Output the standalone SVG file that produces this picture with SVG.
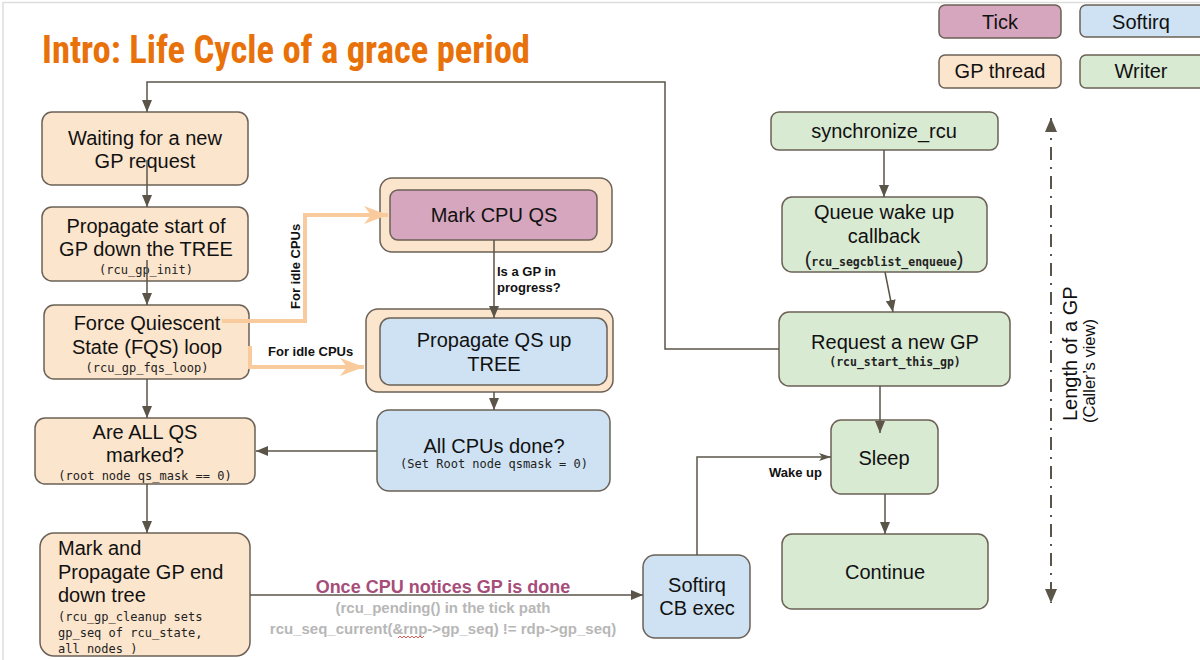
<svg xmlns="http://www.w3.org/2000/svg" width="1200" height="660" viewBox="0 0 1200 660">
<defs>
<style>
.gp{fill:#FCE5CD;stroke:#6b6156;stroke-width:1.5}
.tk{fill:#D5A6BD;stroke:#6b6156;stroke-width:1.5}
.sq{fill:#CFE2F3;stroke:#6b6156;stroke-width:1.5}
.wr{fill:#D9EAD3;stroke:#6b6156;stroke-width:1.5}
.t{font-family:"Liberation Sans",Arial,sans-serif;font-size:20px;fill:#111;text-anchor:middle}
.m{font-family:"DejaVu Sans Mono","Liberation Mono",monospace;font-size:12px;fill:#222;text-anchor:middle}
.mb{font-family:"DejaVu Sans Mono","Liberation Mono",monospace;font-size:11.5px;font-weight:bold;fill:#222;text-anchor:middle}
.sb{font-family:"Liberation Sans",Arial,sans-serif;font-size:13px;font-weight:bold;fill:#111}
.c{fill:none;stroke:#5b5549;stroke-width:1.5}
.o{fill:none;stroke:#F9CB9C;stroke-width:4}
</style>
<marker id="ah" viewBox="0 0 12 10" refX="12" refY="5" markerWidth="12" markerHeight="10" markerUnits="userSpaceOnUse" orient="auto"><path d="M0,0 L12,5 L0,10 z" fill="#5b5549"/></marker>
<marker id="ahn" viewBox="0 0 12 10" refX="12" refY="5" markerWidth="12" markerHeight="10" markerUnits="userSpaceOnUse" orient="auto"><path d="M0,1 L12,5 L0,9 L3,5 z" fill="#5b5549"/></marker>
<marker id="ao" viewBox="0 0 24 18" refX="24" refY="9" markerWidth="24" markerHeight="18" markerUnits="userSpaceOnUse" orient="auto"><path d="M0,0 L24,9 L0,18 L7,9 z" fill="#F9CB9C"/></marker>
<marker id="ax" viewBox="0 0 14 12" refX="14" refY="6" markerWidth="14" markerHeight="12" markerUnits="userSpaceOnUse" orient="auto-start-reverse"><path d="M0,0 L14,6 L0,12 z" fill="#5b5549"/></marker>
</defs>
<rect width="1200" height="660" fill="#fff"/>
<path d="M3,660 V2.5 H1200" fill="none" stroke="#ddd" stroke-width="1.5"/>

<text x="42" y="63" font-family="'Liberation Sans Narrow','Roboto Condensed','Liberation Sans',sans-serif" font-weight="bold" font-size="38" fill="#E8710A" textLength="488" lengthAdjust="spacingAndGlyphs">Intro: Life Cycle of a grace period</text>

<g id="legend-tick"><rect class="tk" x="939" y="5" width="122" height="33" rx="6"/><text class="t" x="1000" y="29">Tick</text></g>
<g id="legend-softirq"><rect class="sq" x="1080" y="5" width="125" height="32" rx="6"/><text class="t" x="1141" y="29">Softirq</text></g>
<g id="legend-gp"><rect class="gp" x="939" y="55" width="122" height="33" rx="6"/><text class="t" x="1000" y="78">GP thread</text></g>
<g id="legend-writer"><rect class="wr" x="1080" y="55" width="125" height="33" rx="6"/><text class="t" x="1141" y="78">Writer</text></g>

<g id="waiting"><rect class="gp" x="42" y="112" width="206" height="73" rx="10"/><text class="t" x="145" y="145">Waiting for a new</text><text class="t" x="145" y="168">GP request</text></g>
<g id="propagate-start"><rect class="gp" x="42" y="207" width="206" height="74" rx="10"/><text class="t" x="146" y="233">Propagate start of</text><text class="t" x="146" y="256">GP down the TREE</text><text class="m" x="146" y="274" font-size="13.5">(rcu_gp_init)</text></g>
<g id="fqs"><rect class="gp" x="44" y="305" width="205" height="74" rx="10"/><text class="t" x="147" y="330">Force Quiescent</text><text class="t" x="147" y="354">State (FQS) loop</text><text class="m" x="147" y="372" font-size="13.5">(rcu_gp_fqs_loop)</text></g>
<g id="all-qs"><rect class="gp" x="35" y="418" width="220" height="66" rx="10"/><text class="t" x="145" y="439">Are ALL QS</text><text class="t" x="145" y="462">marked?</text><text class="m" x="145" y="480">(root node qs_mask == 0)</text></g>
<g id="gp-end"><rect class="gp" x="40" y="533" width="210" height="123" rx="14"/>
<text class="t" x="58" y="555" style="text-anchor:start">Mark and</text>
<text class="t" x="58" y="579" style="text-anchor:start">Propagate GP end</text>
<text class="t" x="58" y="602" style="text-anchor:start">down tree</text>
<text class="m" x="58" y="621" style="text-anchor:start">(rcu_gp_cleanup sets</text>
<text class="m" x="58" y="637" style="text-anchor:start">gp_seq of rcu_state,</text>
<text class="m" x="58" y="653" style="text-anchor:start">all nodes )</text></g>

<g id="mark-cpu-qs"><rect class="gp" x="380" y="178" width="232" height="74" rx="12"/><rect class="tk" x="390" y="190" width="207" height="50" rx="8"/><text class="t" x="494" y="222">Mark CPU QS</text></g>
<g id="propagate-qs"><rect class="gp" x="366" y="309" width="247" height="83" rx="12"/><rect class="sq" x="380" y="318" width="227" height="67" rx="10"/><text class="t" x="494" y="347">Propagate QS up</text><text class="t" x="494" y="371">TREE</text></g>
<g id="all-cpus"><rect class="sq" x="377" y="410" width="233" height="81" rx="12"/><text class="t" x="494" y="453">All CPUs done?</text><text class="m" x="494" y="468">(Set Root node qsmask = 0)</text></g>
<g id="softirq-cb"><rect class="sq" x="643" y="555" width="107" height="83" rx="12"/><text class="t" x="697" y="592">Softirq</text><text class="t" x="697" y="615">CB exec</text></g>

<g id="synchronize"><rect class="wr" x="771" y="112" width="227" height="38" rx="8"/><text class="t" x="884" y="138">synchronize_rcu</text></g>
<g id="queue"><rect class="wr" x="782" y="197" width="205" height="75" rx="10"/><text class="t" x="884" y="219">Queue wake up</text><text class="t" x="884" y="243">callback</text><text class="mb" x="884" y="266" font-size="12"><tspan font-family="'Liberation Sans',Arial,sans-serif" font-size="20" font-weight="normal">(</tspan>rcu_segcblist_enqueue<tspan font-family="'Liberation Sans',Arial,sans-serif" font-size="20" font-weight="normal">)</tspan></text></g>
<g id="request"><rect class="wr" x="779" y="312" width="231" height="74" rx="10"/><text class="t" x="895" y="349">Request a new GP</text><text class="mb" x="895" y="366">(rcu_start_this_gp)</text></g>
<g id="sleep"><rect class="wr" x="831" y="420" width="107" height="74" rx="10"/><text class="t" x="884" y="465">Sleep</text></g>
<g id="continue"><rect class="wr" x="782" y="534" width="206" height="75" rx="10"/><text class="t" x="885" y="579">Continue</text></g>

<g id="connectors">
<path class="c" d="M779,349 H665 V82 H147 V112" marker-end="url(#ah)"/>
<path class="c" d="M147,160 V207" marker-end="url(#ah)"/>
<path class="c" d="M147,260 V305" marker-end="url(#ah)"/>
<path class="c" d="M147,379 V418" marker-end="url(#ah)"/>
<path class="c" d="M147,484 V533" marker-end="url(#ah)"/>
<path class="c" d="M494,240 V318" marker-end="url(#ah)"/>
<path class="c" d="M494,392 V410" marker-end="url(#ah)"/>
<path class="c" d="M377,451 H256" marker-end="url(#ah)"/>
<path class="c" d="M884,150 V197" marker-end="url(#ah)"/>
<path class="c" d="M885,272 L893,312" marker-end="url(#ah)"/>
<path class="c" d="M880,386 V433" marker-end="url(#ah)"/>
<path class="c" d="M885,494 V534" marker-end="url(#ah)"/>
<path class="c" d="M697,555 V457 H831" marker-end="url(#ahn)"/>
<path class="c" d="M250,595 H643" marker-end="url(#ah)"/>
<path class="o" d="M222,321 H305 V215 H388" marker-end="url(#ao)"/>
<path class="o" d="M250,346 V367 H364" marker-end="url(#ao)"/>
<path d="M1051,118 V603" fill="none" stroke="#5b5549" stroke-width="2" stroke-dasharray="13,7,2,7" marker-start="url(#ax)" marker-end="url(#ax)"/>
<text class="sb" transform="translate(300,309) rotate(-90)">For idle CPUs</text>
<text class="sb" x="268" y="356">For idle CPUs</text>
<text class="sb" x="497" y="276">Is a GP in</text>
<text class="sb" x="497" y="292">progress?</text>
<text class="sb" x="822" y="477" text-anchor="end">Wake up</text>
<text x="443" y="593" font-family="'Liberation Sans',Arial,sans-serif" font-size="18" font-weight="bold" fill="#A64D79" text-anchor="middle">Once CPU notices GP is done</text>
<text x="443" y="613" font-family="'Liberation Sans',Arial,sans-serif" font-size="15" font-weight="bold" fill="#B7B7B7" text-anchor="middle">(rcu_pending() in the tick path</text>
<text x="443" y="634" font-family="'Liberation Sans',Arial,sans-serif" font-size="15" font-weight="bold" fill="#B7B7B7" text-anchor="middle">rcu_seq_current(&amp;rnp-&gt;gp_seq) != rdp-&gt;gp_seq)</text>
<path d="M398,638 l2,-2 l2,2 l2,-2 l2,2 l2,-2 l2,2 l2,-2 l2,2 l2,-2 l2,2 l2,-2 l2,2 l2,-2" fill="none" stroke="#d33" stroke-width="0.8"/>
<text transform="translate(1077,421) rotate(-90)" font-family="'Liberation Sans',Arial,sans-serif" font-size="20" fill="#111">Length of a GP</text>
<text transform="translate(1095,423) rotate(-90)" font-family="'Liberation Sans',Arial,sans-serif" font-size="16.5" fill="#111">(Caller’s view)</text>
</g>
</svg>
